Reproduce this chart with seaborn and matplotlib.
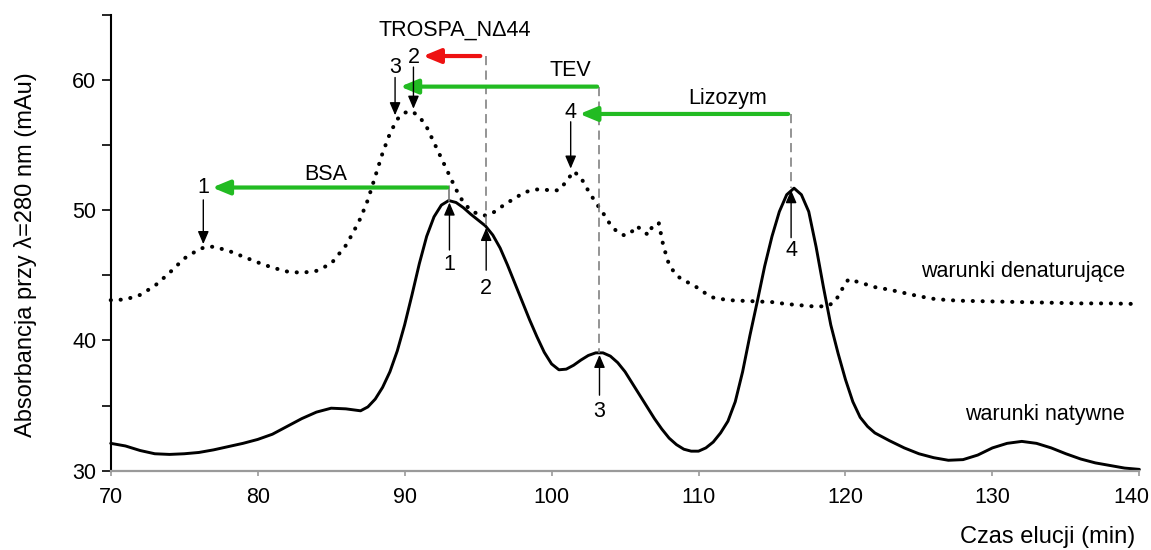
import matplotlib
matplotlib.use("Agg")
import matplotlib.pyplot as plt
import matplotlib.transforms as mtrans
import seaborn as sns
import pandas as pd
from matplotlib.ticker import MultipleLocator

# ---------------- data ----------------
x_native = [70, 71, 72, 73, 74, 75, 76, 77, 78, 79, 80, 81, 82, 83, 84, 85, 86, 87, 87.5, 88,
            88.5, 89, 89.5, 90, 90.5, 91, 91.5, 92, 92.5, 93, 93.5, 94, 94.5, 95, 95.5, 96,
            96.5, 97, 97.5, 98, 98.5, 99, 99.5, 100, 100.5, 101, 101.5, 102, 102.5, 103,
            103.5, 104, 104.5, 105, 105.5, 106, 106.5, 107, 107.5, 108, 108.5, 109, 109.5,
            110, 110.5, 111, 111.5, 112, 112.5, 113, 113.5, 114, 114.5, 115, 115.5, 116,
            116.5, 117, 117.5, 118, 118.5, 119, 119.5, 120, 120.5, 121, 121.5, 122, 123, 124,
            125, 126, 127, 128, 129, 130, 131, 132, 133, 134, 135, 136, 137, 138, 139, 140]
y_native = [32.1, 31.9, 31.55, 31.3, 31.25, 31.3, 31.4, 31.6, 31.85, 32.1, 32.4, 32.8, 33.4,
            34.0, 34.5, 34.8, 34.75, 34.6, 34.9, 35.5, 36.4, 37.6, 39.2, 41.2, 43.5, 45.9,
            48.0, 49.5, 50.4, 50.75, 50.6, 50.2, 49.7, 49.25, 48.8, 48.1, 47.1, 45.8, 44.4,
            43.0, 41.6, 40.3, 39.1, 38.2, 37.75, 37.8, 38.1, 38.5, 38.85, 39.05, 39.05, 38.8,
            38.3, 37.6, 36.7, 35.8, 34.9, 34.0, 33.2, 32.5, 32.0, 31.65, 31.5, 31.5, 31.75,
            32.2, 32.9, 33.8, 35.3, 37.6, 40.4, 43.0, 45.7, 48.0, 49.9, 51.2, 51.7, 51.2,
            49.9, 47.2, 44.1, 41.2, 39.0, 37.0, 35.3, 34.1, 33.4, 32.9, 32.3, 31.75, 31.3,
            31.0, 30.8, 30.85, 31.2, 31.75, 32.1, 32.25, 32.1, 31.75, 31.3, 30.9, 30.6, 30.4,
            30.2, 30.1]

x_denat = [70, 71, 72, 73, 74, 75, 76, 76.5, 77, 78, 79, 80, 81, 82, 83, 84, 85, 86, 86.5, 87,
           87.5, 88, 88.5, 89, 89.5, 90, 90.5, 91, 91.5, 92, 92.5, 93, 93.5, 94, 94.5, 95,
           95.5, 96, 96.5, 97, 97.5, 98, 98.5, 99, 99.5, 100, 100.5, 101, 101.5, 102, 102.5,
           103, 103.5, 104, 104.5, 105, 105.5, 105.8, 106.2, 106.6, 106.9, 107.3, 107.6, 108,
           108.5, 109, 109.5, 110, 110.5, 111, 112, 113, 114, 115, 116, 117, 118, 118.8,
           119.3, 119.8, 120.2, 121, 122, 123, 124, 125, 126, 127, 128, 130, 132, 134, 136,
           138, 140]
y_denat = [43.1, 43.15, 43.5, 44.2, 45.2, 46.3, 47.0, 47.2, 47.2, 46.9, 46.45, 46.0, 45.6,
           45.3, 45.2, 45.35, 45.9, 47.3, 48.3, 49.4, 50.8, 52.6, 54.4, 55.9, 57.0, 57.5,
           57.6, 57.2, 56.4, 55.2, 54.0, 52.8, 51.6, 50.6, 50.0, 49.7, 49.6, 49.8, 50.2,
           50.6, 50.9, 51.3, 51.5, 51.6, 51.6, 51.5, 51.55, 52.2, 53.0, 52.5, 51.5, 50.6,
           49.8, 48.9, 48.3, 48.05, 48.4, 48.8, 48.4, 48.1, 48.9, 49.0, 47.3, 45.8, 45.0,
           44.6, 44.35, 44.0, 43.6, 43.3, 43.1, 43.05, 43.0, 42.95, 42.8, 42.7, 42.6, 42.65,
           43.0, 44.0, 44.7, 44.45, 44.1, 43.9, 43.65, 43.4, 43.2, 43.1, 43.05, 43.0, 42.95,
           42.9, 42.85, 42.85, 42.8]

# marker labels
standards = ["BSA", "TEV", "Lizozym"]
protein_label = "TROSPA_N\u039444"
native_peak_x = [93.05, 95.55, 103.26, 116.3]
native_peak_y = [50.75, 48.8, 39.05, 51.7]
native_peak_lab = ["1", "2", "3", "4"]
denat_peak_x = [76.35, 90.6, 89.35, 101.5]
denat_peak_y = [47.2, 57.6, 57.1, 53.0]
denat_peak_lab = ["1", "2", "3", "4"]
series_names = ["warunki natywne", "warunki denaturuj\u0105ce"]

x_ticks = [70, 80, 90, 100, 110, 120, 130, 140]
y_ticks = [30, 40, 50, 60]

# ---------------- style ----------------
sns.set_theme(style="white")
plt.rcParams["font.family"] = ["Liberation Sans", "DejaVu Sans"]
plt.rcParams["text.color"] = "black"
plt.rcParams["axes.labelcolor"] = "black"
plt.rcParams["xtick.color"] = "black"
plt.rcParams["ytick.color"] = "black"

fs = 15.5
fs_lab = 17

fig = plt.figure(figsize=(11.51, 5.5), dpi=100)
ax = fig.add_axes([0.0962, 0.1442, 0.8937, 0.8285])

df_nat = pd.DataFrame({"x": x_native, "y": y_native})
df_den = pd.DataFrame({"x": x_denat, "y": y_denat})
sns.lineplot(data=df_nat, x="x", y="y", ax=ax, color="black", lw=2.1, estimator=None,
             sort=False, clip_on=False)
sns.lineplot(data=df_den, x="x", y="y", ax=ax, color="black", lw=2.9, estimator=None,
             sort=False, linestyle=(0, (0.05, 2.4)), dash_capstyle="round", clip_on=False)

ax.set_xlim(70, 140)
ax.set_ylim(30, 65)
ax.set_xticks(x_ticks)
ax.set_yticks(y_ticks)
ax.yaxis.set_minor_locator(MultipleLocator(5))
ax.tick_params(axis="y", which="both", direction="out", length=6.5, width=1.2,
               color="black", labelcolor="black", labelsize=fs, pad=4, left=True)
ax.tick_params(axis="x", which="major", direction="out", length=3.5, width=1.2,
               color="#999999", labelcolor="black", labelsize=fs, pad=8, bottom=True)
for s in ["top", "right"]:
    ax.spines[s].set_visible(False)
ax.spines["left"].set_color("black")
ax.spines["left"].set_linewidth(1.5)
ax.spines["bottom"].set_color("#9a9a9a")
ax.spines["bottom"].set_linewidth(1.6)
ax.grid(False)

# keep the last x tick label inside the figure
fig.canvas.draw()
last = ax.get_xticklabels()[-1]
last.set_transform(last.get_transform() + mtrans.ScaledTranslation(-8 / 100, 0, fig.dpi_scale_trans))

ax.set_xlabel("Czas elucji (min)", fontsize=fs_lab, ha="right", color="black")
ax.xaxis.set_label_coords(0.996, -0.121)
ax.set_ylabel("Absorbancja przy \u03bb=280 nm (mAu)", fontsize=fs_lab, color="black")
ax.yaxis.set_label_coords(-0.072, 0.475)

green = "#22bb22"
red = "#ee1111"
gray = "#777777"
dash = (0, (6, 3.5))

def big_arrow(x0, x1, y, color):
    ax.annotate("", xy=(x1, y), xytext=(x0, y),
                arrowprops=dict(arrowstyle="-|>,head_length=0.8,head_width=0.33",
                                color=color, lw=3, mutation_scale=13,
                                shrinkA=0, shrinkB=0))

def small_arrow(x, y0, y1):
    ax.annotate("", xy=(x, y1), xytext=(x, y0),
                arrowprops=dict(arrowstyle="-|>,head_length=0.7,head_width=0.3",
                                color="black", lw=1.0, mutation_scale=11,
                                shrinkA=0, shrinkB=0))

# BSA
big_arrow(92.9, 76.9, 51.75, green)
ax.text(84.6, 52.75, standards[0], fontsize=fs, ha="center", va="center")
ax.plot([native_peak_x[0]] * 2, [51.85, native_peak_y[0]], color=gray, lw=1.2)
# TROSPA
ax.plot([native_peak_x[1]] * 2, [61.85, native_peak_y[1]], color=gray, lw=1.1, ls=dash)
big_arrow(95.15, 91.25, 61.85, red)
ax.text(93.4, 63.85, protein_label, fontsize=fs, ha="center", va="center")
# TEV
ax.plot([native_peak_x[2]] * 2, [59.5, native_peak_y[2]], color=gray, lw=1.1, ls=dash)
big_arrow(103.1, 89.7, 59.5, green)
ax.text(101.3, 60.75, standards[1], fontsize=fs, ha="center", va="center")
# Lizozym
ax.plot([native_peak_x[3]] * 2, [57.4, native_peak_y[3]], color=gray, lw=1.1, ls=dash)
big_arrow(116.1, 101.9, 57.4, green)
ax.text(112.0, 58.55, standards[2], fontsize=fs, ha="center", va="center")

# denaturing peak markers
den_label_y = [51.75, 61.75, 61.0, 57.5]
den_tail_y = [50.8, 61.0, 60.2, 56.8]
den_label_x = [76.3, 90.6, 89.35, 101.3]
for lx, ly, ty, px, py, lab in zip(den_label_x, den_label_y, den_tail_y,
                                   denat_peak_x, denat_peak_y, denat_peak_lab):
    ax.text(lx, ly, lab, fontsize=fs, ha="center", va="center")
    small_arrow(lx, ty, py + 0.2)

# native peak markers
nat_tail_y = [46.95, 45.4, 35.8, 47.9]
nat_label_y = [45.85, 44.0, 34.55, 46.9]
for px, py, ty, ly, lab in zip(native_peak_x, native_peak_y, nat_tail_y, nat_label_y,
                               native_peak_lab):
    small_arrow(px, ty, py - 0.15)
    ax.text(px, ly, lab, fontsize=fs, ha="center", va="center")

# series labels
ax.text(133.6, 34.3, series_names[0], fontsize=fs, ha="center", va="center")
ax.text(132.1, 45.3, series_names[1], fontsize=fs, ha="center", va="center")

fig.savefig("out.png", dpi=100)
